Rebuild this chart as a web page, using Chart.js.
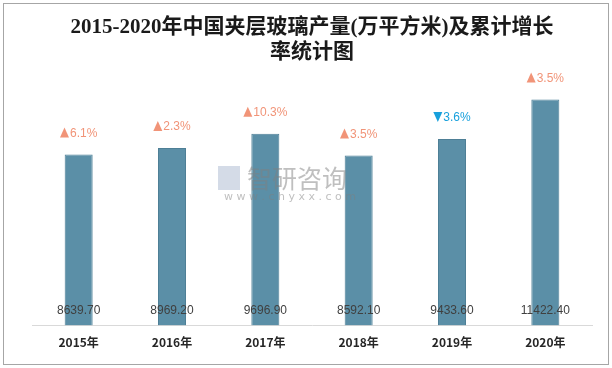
<!DOCTYPE html>
<html>
<head>
<meta charset="utf-8">
<script src="https://cdn.jsdelivr.net/npm/chart.js@4/dist/chart.umd.min.js"></script>
<style>
  html, body { margin: 0; padding: 0; background: #fff; }
  #wrap { width: 612px; height: 368px; }
</style>
</head>
<body>
<div id="wrap"><canvas id="glass-chart" width="612" height="368"></canvas></div>
<script>
// 2015-2020 laminated glass output
const years = ['2015年', '2016年', '2017年', '2018年', '2019年', '2020年'];
const output = [8639.70, 8969.20, 9696.90, 8592.10, 9433.60, 11422.40];
const growth = [6.1, 2.3, 10.3, 3.5, -3.6, 3.5];

const upColor = '#f19478';
const downColor = '#18a0dc';

// frame + white background
const framePlugin = {
    id: 'frame',
    beforeDraw(chart) {
        const ctx = chart.ctx;
        ctx.save();
        ctx.fillStyle = '#ffffff';
        ctx.fillRect(0, 0, chart.width, chart.height);
        ctx.strokeStyle = '#a6a6a6';
        ctx.lineWidth = 1;
        ctx.strokeRect(3.5, 3.5, chart.width - 7, chart.height - 7);
        ctx.restore();
    }
};

// value at the foot of each bar, growth above each bar
const labelPlugin = {
    id: 'barLabels',
    afterDatasetsDraw(chart) {
        const ctx = chart.ctx;
        const meta = chart.getDatasetMeta(0);
        const base = chart.scales.y.getPixelForValue(0);
        ctx.save();
        meta.data.forEach((bar, i) => {
            // value
            ctx.font = '12px "Liberation Sans", sans-serif';
            ctx.fillStyle = '#404040';
            ctx.textAlign = 'center';
            ctx.textBaseline = 'middle';
            ctx.fillText(output[i].toFixed(2), bar.x, base - 15);

            // growth
            const g = growth[i];
            const txt = Math.abs(g).toFixed(1) + '%';
            const col = g >= 0 ? upColor : downColor;
            ctx.font = '12px "Liberation Sans", sans-serif';
            const tw = ctx.measureText(txt).width;
            const triW = 9, gap = 1;
            const total = triW + gap + tw;
            const left = bar.x - total / 2;
            const cy = bar.y - 22;
            ctx.fillStyle = col;
            ctx.beginPath();
            if (g >= 0) {
                ctx.moveTo(left, cy + 5);
                ctx.lineTo(left + triW, cy + 5);
                ctx.lineTo(left + triW / 2, cy - 5);
            } else {
                ctx.moveTo(left, cy - 5);
                ctx.lineTo(left + triW, cy - 5);
                ctx.lineTo(left + triW / 2, cy + 5);
            }
            ctx.closePath();
            ctx.fill();
            ctx.textAlign = 'left';
            ctx.fillText(txt, left + triW + gap, cy + 1);
        });
        ctx.restore();
    },
    afterDraw(chart) {
        // watermark
        const ctx = chart.ctx;
        ctx.save();
        ctx.globalAlpha = 0.5;
        ctx.fillStyle = '#808080';
        ctx.textAlign = 'center';
        ctx.textBaseline = 'middle';
        ctx.font = '25px "Noto Sans CJK SC", sans-serif';
        ctx.fillText('智研咨询', 297, 178);
        ctx.font = '11px "DejaVu Sans", sans-serif';
        ctx.fillText('w w w . c h y x x . c o m', 290, 197);
        ctx.fillStyle = '#a9b8d0';
        ctx.fillRect(218, 166, 22, 24);
        ctx.restore();
    }
};

const config = {
    type: 'bar',
    data: {
        labels: years,
        datasets: [{
            label: '夹层玻璃产量',
            data: output,
            backgroundColor: '#5b8fa7',
            borderColor: '#4e7f96',
            borderWidth: 1,
            barPercentage: 0.3,
            categoryPercentage: 1.0
        }]
    },
    options: {
        responsive: false,
        animation: false,
        layout: {
            padding: { left: 32, right: 20, top: 0, bottom: 8 }
        },
        scales: {
            x: {
                grid: { display: false, drawTicks: false },
                border: { color: '#d9d9d9', width: 1 },
                ticks: {
                    color: '#262626',
                    padding: 10,
                    font: { size: 12, weight: 'bold', family: '"Noto Sans CJK SC", sans-serif' }
                }
            },
            y: {
                display: false,
                min: 0,
                max: 13000
            }
        },
        plugins: {
            legend: { display: false },
            tooltip: { enabled: false },
            title: {
                display: true,
                text: ['2015-2020年中国夹层玻璃产量(万平方米)及累计增长', '率统计图'],
                color: '#1a1a1a',
                font: { size: 21, weight: 'bold', family: '"Liberation Serif", "Noto Sans CJK SC", serif', lineHeight: 1.15 },
                padding: { top: 16, bottom: 4 }
            }
        }
    },
    plugins: [framePlugin, labelPlugin]
};

const glassChart = new Chart(document.getElementById('glass-chart'), config);
</script>
</body>
</html>
